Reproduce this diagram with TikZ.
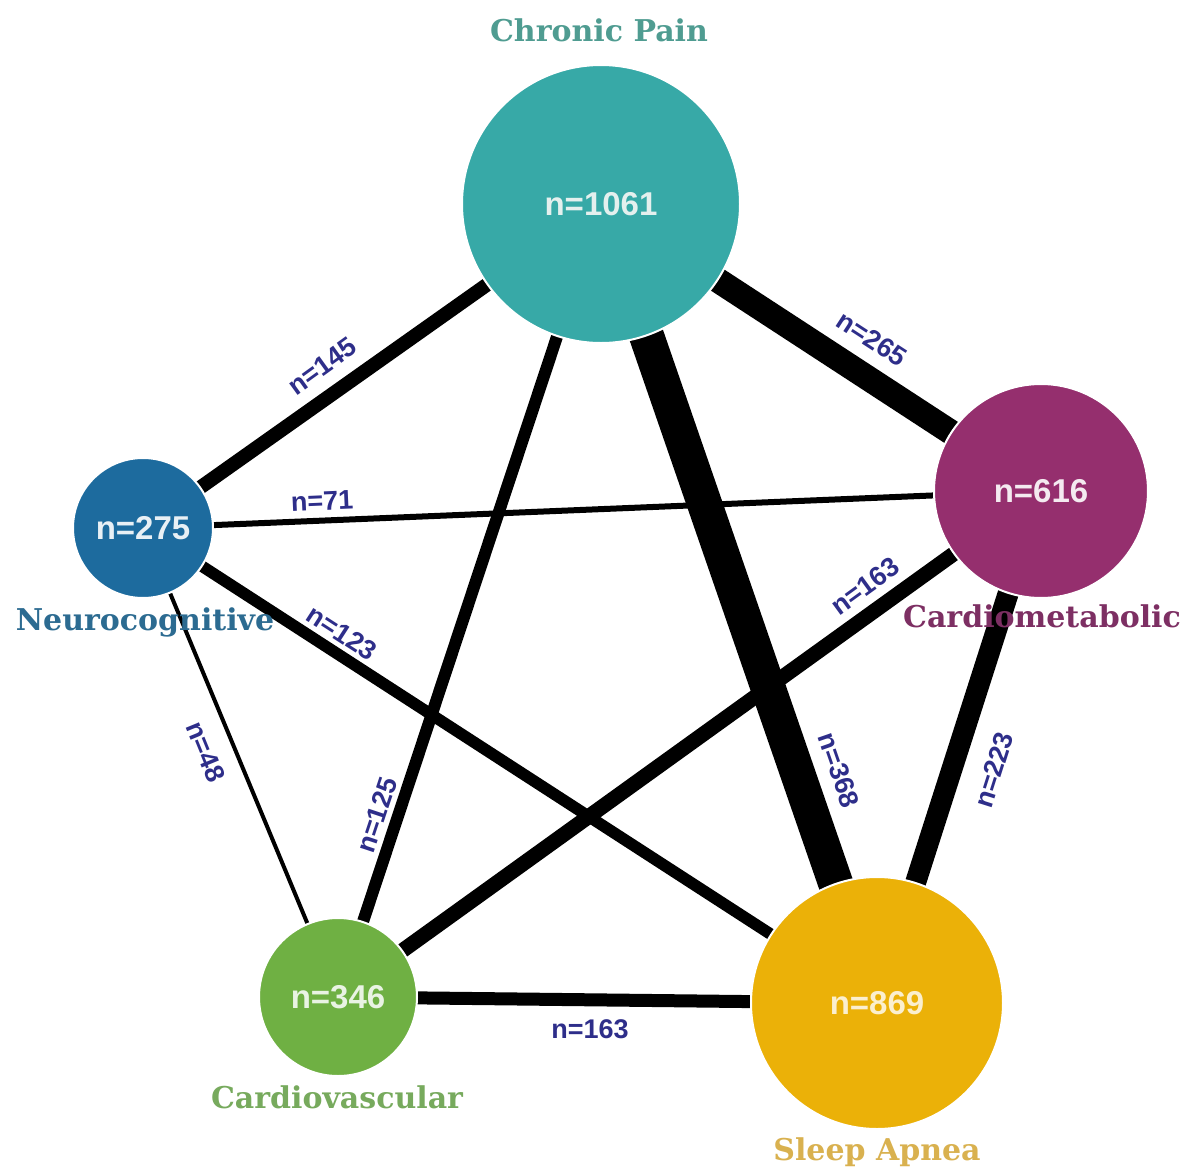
\documentclass[tikz,border=0pt]{standalone}
\usepackage{fontspec}
\setmainfont{Liberation Sans}
\newfontfamily\titlefont{DejaVu Serif}
\definecolor{cpC}{HTML}{37A9A7}
\definecolor{nuC}{HTML}{1D6B9E}
\definecolor{cmC}{HTML}{952F6E}
\definecolor{cvC}{HTML}{6FB043}
\definecolor{saC}{HTML}{EBB108}
\definecolor{cpT}{HTML}{4F9C91}
\definecolor{nuT}{HTML}{2C6B91}
\definecolor{cmT}{HTML}{7D2F63}
\definecolor{cvT}{HTML}{77AA5D}
\definecolor{saT}{HTML}{D9B14F}
\definecolor{edgeT}{HTML}{2E2E8A}
\tikzset{
  disease/.style={circle, inner sep=0pt, draw=white, line width=1pt, font=\bfseries\fontsize{16.5}{18}\selectfont},
  title/.style={font=\titlefont\bfseries\fontsize{15}{17}\selectfont, inner sep=0pt},
  link/.style={draw=black, line cap=butt},
  elabel/.style={font=\bfseries\fontsize{13.5}{15}\selectfont, text=edgeT, inner sep=0pt}
}
\begin{document}
\begin{tikzpicture}[x=0.5pt,y=-0.5pt]
\useasboundingbox[fill=white] (0,0) rectangle (1191,1173);
% node centres
\coordinate (cp0) at (601,204);
\coordinate (nu0) at (143,528);
\coordinate (cm0) at (1041,491);
\coordinate (cv0) at (338,997);
\coordinate (sa0) at (877,1003);
% edges
\draw[link, line width=17.5pt] (cp0) -- (sa0);
\draw[link, line width=12.5pt] (cp0) -- (cm0);
\draw[link, line width=7pt] (cp0) -- (nu0);
\draw[link, line width=6pt] (cp0) -- (cv0);
\draw[link, line width=3pt] (nu0) -- (cm0);
\draw[link, line width=5.8pt] (nu0) -- (sa0);
\draw[link, line width=2pt] (nu0) -- (cv0);
\draw[link, line width=7.5pt] (cm0) -- (cv0);
\draw[link, line width=10.5pt] (cm0) -- (sa0);
\draw[link, line width=6.5pt] (cv0) -- (sa0);
% nodes
\node[disease, fill=cpC, text=cpT!15!white, minimum size=139pt] (cp) at (cp0) {n=1061};
\node[disease, fill=nuC, text=nuC!10!white, minimum size=70pt] (nu) at (nu0) {n=275};
\node[disease, fill=cmC, text=cmC!10!white, minimum size=107pt] (cm) at (cm0) {n=616};
\node[disease, fill=cvC, text=cvC!15!white, minimum size=79pt] (cv) at (cv0) {n=346};
\node[disease, fill=saC, text=saC!20!white, minimum size=126pt] (sa) at (sa0) {n=869};
% titles
\node[title, text=cpT] (cpl) at (599,30) {Chronic Pain};
\node[title, text=nuT] (nul) at (145,622) {Neurocognitive};
\node[title, text=cmT] (cml) at (1042,616) {Cardiometabolic};
\node[title, text=cvT] (cvl) at (337,1097) {Cardiovascular};
\node[title, text=saT] (sal) at (877,1152) {Sleep Apnea};
% edge labels
\node[elabel, rotate=35.8] (l145) at (322,366) {n=145};
\node[elabel, rotate=-33] (l265) at (872,339) {n=265};
\node[elabel, rotate=2.5] (l71) at (322,501) {n=71};
\node[elabel, rotate=-32.8] (l123) at (342,633) {n=123};
\node[elabel, rotate=-67.8] (l48) at (206,752) {n=48};
\node[elabel, rotate=71.6] (l125) at (377,815) {n=125};
\node[elabel, rotate=35.9] (l163a) at (865,586) {n=163};
\node[elabel, rotate=-70.9] (l368) at (839,770) {n=368};
\node[elabel, rotate=72.4] (l223) at (994,770) {n=223};
\node[elabel] (l163b) at (590,1029) {n=163};
\end{tikzpicture}
\end{document}
